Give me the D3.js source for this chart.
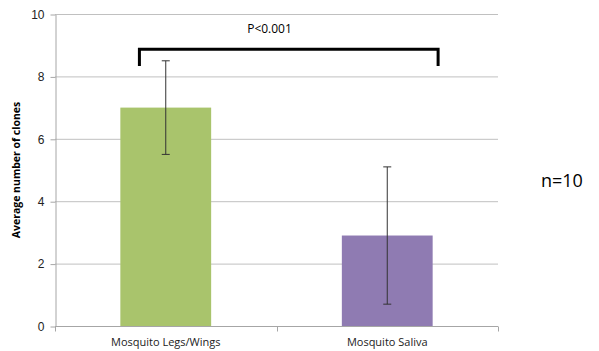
<!DOCTYPE html>
<html>
<head>
<meta charset="utf-8">
<script src="https://cdn.jsdelivr.net/npm/d3@7"></script>
<style>
  body { margin: 0; background: #fff; }
  svg { font-family: "Open Sans", "Liberation Sans", sans-serif; }
  .grid line { stroke: #c0c0c0; }
  .axis path, .axis line { stroke: #a6a6a6; }
  .axis text { fill: #222; font-size: 11px; }
  .yAxis text { font-size: 12px; }
</style>
</head>
<body>
<svg id="chart"></svg>
<script>
var width = 599, height = 351;
var margin = {top: 14, right: 101, bottom: 25, left: 55};

// chart data
var categories = ['Mosquito Legs/Wings', 'Mosquito Saliva'];
var means = [7, 2.9];
var errors = [1.5, 2.2];
var barColors = ['#a9c46c', '#8f7bb2'];
var yTicks = [0, 2, 4, 6, 8, 10];
var pLabel = 'P<0.001';
var nLabel = 'n=10';

var svg = d3.select('#chart')
    .attr('width', width)
    .attr('height', height);

var x = d3.scaleBand()
    .domain(categories)
    .range([margin.left, width - margin.right])
    .paddingInner(0.59)
    .paddingOuter(0.295);

// band boundaries for axis ticks
var xEdge = d3.scaleLinear()
    .domain([0, categories.length])
    .range([margin.left, width - margin.right]);

var y = d3.scaleLinear()
    .domain([0, 10])
    .range([height - margin.bottom, margin.top]);

// gridlines
svg.append('g')
    .attr('class', 'grid')
    .selectAll('line')
    .data(yTicks.filter(d => d > 0))
    .enter()
    .append('line')
    .attr('x1', margin.left)
    .attr('x2', width - margin.right)
    .attr('y1', d => y(d) + 0.5)
    .attr('y2', d => y(d) + 0.5);

// y axis
svg.append('g')
    .attr('class', 'axis yAxis')
    .attr('transform', `translate(${margin.left + 0.5}, 0.5)`)
    .call(d3.axisLeft(y).tickValues(yTicks).tickSize(5).tickPadding(6).tickSizeOuter(0));

// x axis (category boundaries as ticks)
var xAxisG = svg.append('g')
    .attr('class', 'axis xAxis')
    .attr('transform', `translate(0, ${y(0) + 0.5})`);
xAxisG.append('line')
    .attr('x1', margin.left)
    .attr('x2', width - margin.right);
xAxisG.selectAll('line.tick')
    .data(d3.range(categories.length + 1))
    .enter()
    .append('line')
    .attr('class', 'tick')
    .attr('x1', d => Math.round(xEdge(d)) + 0.5)
    .attr('x2', d => Math.round(xEdge(d)) + 0.5)
    .attr('y1', 0)
    .attr('y2', 5);
xAxisG.selectAll('text')
    .data(categories)
    .enter()
    .append('text')
    .attr('x', d => x(d) + x.bandwidth() / 2)
    .attr('y', 19)
    .attr('text-anchor', 'middle')
    .text(d => d);

// bars
svg.selectAll('rect.bar')
    .data(categories)
    .enter()
    .append('rect')
    .attr('class', 'bar')
    .attr('x', d => x(d))
    .attr('width', x.bandwidth())
    .attr('y', (d, i) => y(means[i]))
    .attr('height', (d, i) => y(0) - y(means[i]))
    .style('fill', (d, i) => barColors[i]);

// error bars
var err = svg.selectAll('g.err')
    .data(categories)
    .enter()
    .append('g')
    .attr('class', 'err')
    .attr('stroke', '#333')
    .attr('stroke-width', 1);
err.append('line')
    .attr('x1', d => x(d) + x.bandwidth() / 2)
    .attr('x2', d => x(d) + x.bandwidth() / 2)
    .attr('y1', (d, i) => y(means[i] + errors[i]))
    .attr('y2', (d, i) => y(means[i] - errors[i]));
err.selectAll('line.cap')
    .data((d, i) => [means[i] + errors[i], means[i] - errors[i]].map(v => ({c: d, v: v})))
    .enter()
    .append('line')
    .attr('class', 'cap')
    .attr('x1', d => x(d.c) + x.bandwidth() / 2 - 4)
    .attr('x2', d => x(d.c) + x.bandwidth() / 2 + 4)
    .attr('y1', d => y(d.v))
    .attr('y2', d => y(d.v));

// significance bracket
var bx1 = x(categories[0]) + x.bandwidth() * 0.21;
var bx2 = x(categories[1]) + x.bandwidth() * 1.06;
svg.append('path')
    .attr('d', `M${bx1},${y(8.33)} V${y(8.87)} H${bx2} V${y(8.33)}`)
    .attr('fill', 'none')
    .attr('stroke', '#000')
    .attr('stroke-width', 3);
svg.append('text')
    .attr('x', xEdge(1) - 7)
    .attr('y', y(9.4))
    .attr('text-anchor', 'middle')
    .style('font-size', '12px')
    .text(pLabel);

// y axis title
svg.append('text')
    .attr('transform', `translate(20, ${y(5)}) rotate(-90)`)
    .attr('text-anchor', 'middle')
    .style('font-size', '10.5px')
    .style('font-weight', 'bold')
    .text('Average number of clones');

// n label
svg.append('text')
    .attr('x', 541)
    .attr('y', 187)
    .style('font-size', '18px')
    .text(nLabel);
</script>
</body>
</html>
